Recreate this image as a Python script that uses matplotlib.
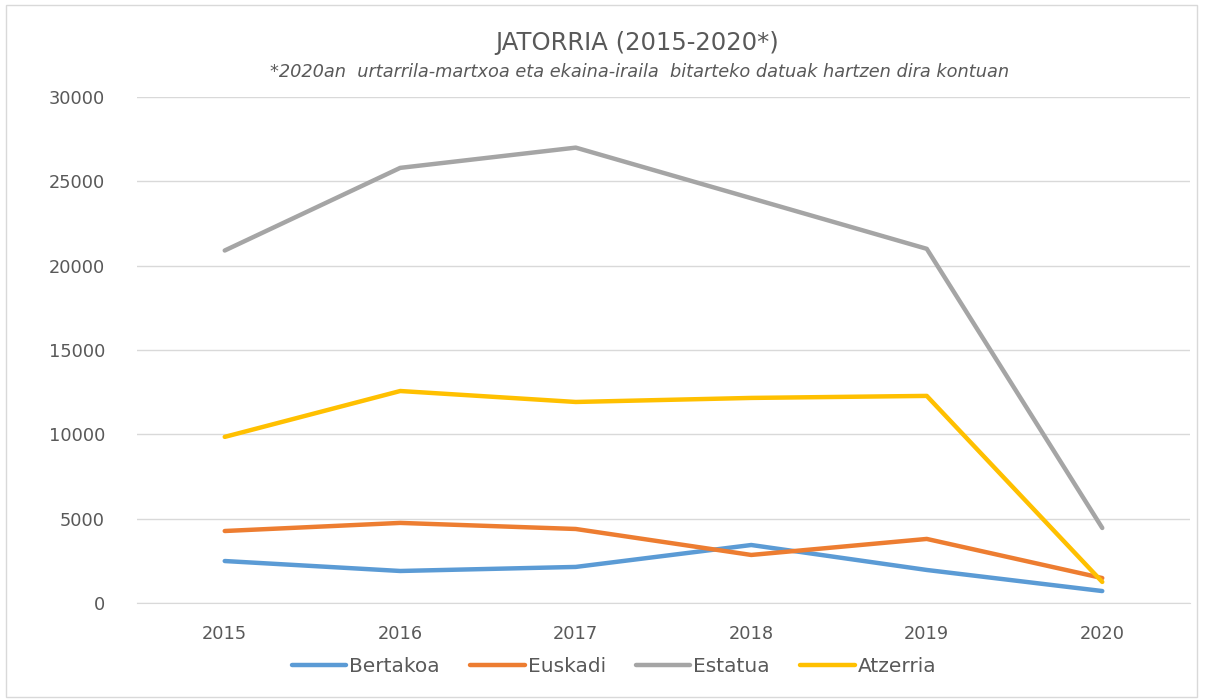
import matplotlib.pyplot as plt
import matplotlib.patches as patches

years = ['2015', '2016', '2017', '2018', '2019', '2020']
bertakoa = [2490, 1900, 2140, 3440, 1960, 710]
euskadi = [4270, 4750, 4390, 2850, 3800, 1480]
estatua = [20900, 25800, 27000, 24000, 21000, 4450]
atzerria = [9850, 12570, 11920, 12160, 12280, 1250]

series = [
    ('Bertakoa', bertakoa, '#5b9bd5'),
    ('Euskadi', euskadi, '#ed7d31'),
    ('Estatua', estatua, '#a5a5a5'),
    ('Atzerria', atzerria, '#ffc000'),
]

plt.rcParams['font.family'] = ['DejaVu Sans']
txt = '#595959'

fig = plt.figure(figsize=(12.09, 6.99), dpi=100)
ax = fig.add_axes([0.1133, 0.1373, 0.871, 0.7239])

x = range(len(years))
for name, vals, col in series:
    ax.plot(x, vals, color=col, lw=3.2, label=name, solid_capstyle='round')

ax.set_xlim(-0.5, 5.5)
ax.set_ylim(0, 30000)
ax.set_yticks(range(0, 30001, 5000))
ax.set_xticks(list(x))
ax.set_xticklabels(years)
ax.grid(axis='y', color='#d9d9d9', lw=1)
ax.set_axisbelow(True)
for s in ['top', 'right', 'left']:
    ax.spines[s].set_visible(False)
ax.spines['bottom'].set_color('#d9d9d9')
ax.tick_params(axis='both', length=0, labelsize=12.8, colors=txt)
ax.tick_params(axis='y', pad=23)
ax.tick_params(axis='x', pad=16)

fig.text(0.527, 0.938, 'JATORRIA (2015-2020*)', ha='center', va='center',
         fontsize=17.5, color=txt)
fig.text(0.529, 0.897,
         '*2020an  urtarrila-martxoa eta ekaina-iraila  bitarteko datuak hartzen dira kontuan',
         ha='center', va='center', fontsize=12.8, style='italic', color=txt)

fig.legend(loc='center', bbox_to_anchor=(0.508, 0.047), ncol=4, frameon=False,
           fontsize=14.5, labelcolor=txt, handlelength=2.7, columnspacing=1.5,
           handletextpad=0.15)

fig.add_artist(patches.Rectangle((0.005, 0.003), 0.985, 0.99, transform=fig.transFigure,
                                 fill=False, edgecolor='#d9d9d9', lw=1))

fig.savefig('out.png', dpi=100)
